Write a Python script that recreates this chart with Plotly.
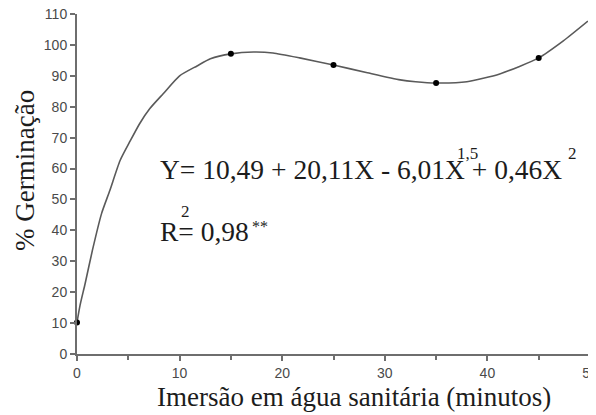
import plotly.graph_objects as go

# Observed means
obs_x = [0, 15, 25, 35, 45]
obs_y = [10.2, 97.1, 93.5, 87.7, 95.8]

# Fitted curve
curve_x = [0, 0.3, 0.8, 1.5, 2.4, 3.2, 4.2, 5.2, 6.1, 7.1, 8.4, 10, 11.7, 13, 15,
           17.2, 19.1, 21.7, 25, 28.3, 31.5, 33, 35, 38, 41.2, 45, 47.4, 49.8]
curve_y = [10.2, 15.8, 22.9, 33.5, 45.5, 52.9, 62.6, 69, 74.5, 79.4, 84.2, 90, 93.2, 95.5, 97.1,
           97.7, 97.4, 95.8, 93.5, 91, 88.7, 88.1, 87.7, 88.1, 90.6, 95.8, 101.3, 107.7]

x_ticks = [0, 10, 20, 30, 40, 50]
y_ticks = [0, 10, 20, 30, 40, 50, 60, 70, 80, 90, 100, 110]

x_title = "Imersão em água sanitária (minutos)"
y_title = "% Germinação"
eq_text = "Y= 10,49 + 20,11X - 6,01X + 0,46X"
r2_text = "R= 0,98"

# page offset of the plot div (default body margin)
OFF = 8
L, T, W, H = 77, 14, 513, 340


def px(xp):
    return (xp - L) / W


def py(yp):
    return (T + H - yp) / H


AX = "#6e6e6e"
TXT = "#1c1c1c"

fig = go.Figure()
fig.add_trace(go.Scatter(x=curve_x, y=curve_y, mode="lines",
                         line=dict(color="#5a5a5a", width=1.6, shape="spline", smoothing=0.6),
                         hoverinfo="skip", showlegend=False, cliponaxis=False))
fig.add_trace(go.Scatter(x=obs_x, y=obs_y, mode="markers",
                         marker=dict(color="#000000", size=6),
                         showlegend=False, cliponaxis=False))

serif = "Liberation Serif, Times New Roman, serif"
ann = [
    dict(text=y_title, x=px(25), y=py(171), textangle=-90, font=dict(size=27, color=TXT, family=serif),
         xanchor="center", yanchor="middle"),
    dict(text=x_title, x=px(354), y=py(397), font=dict(size=27, color=TXT, family=serif),
         xanchor="center", yanchor="middle"),
    dict(text=eq_text, x=px(158), y=py(169), font=dict(size=27.5, color=TXT, family=serif),
         xanchor="left", yanchor="middle"),
    dict(text="1,5", x=px(455), y=py(153), font=dict(size=17, color=TXT, family=serif),
         xanchor="left", yanchor="middle"),
    dict(text="2", x=px(566), y=py(153), font=dict(size=17, color=TXT, family=serif),
         xanchor="left", yanchor="middle"),
    dict(text=r2_text, x=px(158), y=py(232), font=dict(size=27.5, color=TXT, family=serif),
         xanchor="left", yanchor="middle"),
    dict(text="2", x=px(179), y=py(212), font=dict(size=17, color=TXT, family=serif),
         xanchor="left", yanchor="middle"),
    dict(text="**", x=px(250), y=py(226), font=dict(size=16, color=TXT, family=serif),
         xanchor="left", yanchor="middle"),
]
for a in ann:
    a.update(xref="paper", yref="paper", showarrow=False)

tickfont = dict(family="Liberation Sans, Arial", size=14, color="#4a4a4a")
fig.update_layout(
    width=596, height=415,
    margin=dict(l=L - OFF, r=596 - (L - OFF) - W, t=T - OFF, b=415 - (T - OFF) - H),
    paper_bgcolor="white", plot_bgcolor="white",
    annotations=ann,
    xaxis=dict(range=[0, 50], tickvals=x_ticks, ticks="outside", ticklen=5, tickwidth=2,
               tickcolor=AX, showline=True, linecolor=AX, linewidth=2, showgrid=False,
               zeroline=False, tickfont=tickfont, ticklabeloverflow="allow", automargin=False,
               minor=dict(dtick=5, ticks="outside", ticklen=4, tickwidth=2, tickcolor=AX, showgrid=False)),
    yaxis=dict(range=[0, 110], tickvals=y_ticks, ticks="outside", ticklen=5, tickwidth=2,
               tickcolor=AX, showline=True, linecolor=AX, linewidth=2, showgrid=False,
               zeroline=False, tickfont=tickfont, ticklabeloverflow="allow", automargin=False),
)

fig.write_html("out.html")
